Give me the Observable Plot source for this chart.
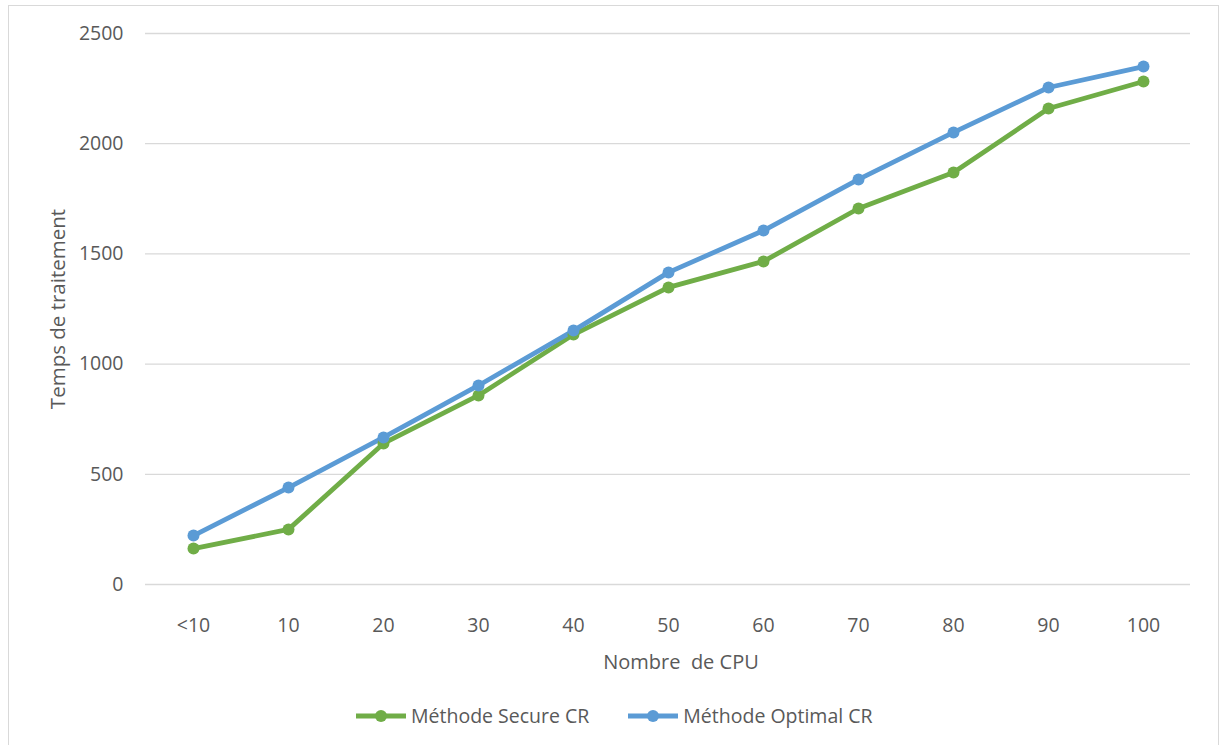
<!DOCTYPE html>
<html>
<head>
<meta charset="utf-8">
<script src="https://cdn.jsdelivr.net/npm/d3@7"></script>
<script src="https://cdn.jsdelivr.net/npm/@observablehq/plot@0.6"></script>
<style>
  body { margin: 0; background: #fff; font-family: "Open Sans", sans-serif; }
  #wrap { position: relative; width: 1224px; height: 745px; overflow: hidden; }
  #frame { position: absolute; left: 8px; top: 5px; width: 1209px; height: 760px; border: 1px solid #d9d9d9; }
  #chart { position: absolute; left: 0; top: 0; }
  #legend { position: absolute; top: 702px; left: 355px; display: flex; align-items: center; font-size: 19.5px; color: #595959; }
  .item { display: flex; align-items: center; margin-right: 38px; }
  .item svg { margin-right: 4px; }
</style>
</head>
<body>
<div id="wrap">
  <div id="frame"></div>
  <div id="chart"></div>
  <div id="legend"></div>
</div>
<script>
const categories = ["<10", "10", "20", "30", "40", "50", "60", "70", "80", "90", "100"];
const secureCR = [163, 250, 640, 858, 1134, 1348, 1466, 1706, 1869, 2160, 2282];
const optimalCR = [222, 440, 667, 903, 1152, 1416, 1606, 1838, 2051, 2255, 2350];
const seriesNames = ["Méthode Secure CR", "Méthode Optimal CR"];
const seriesColors = ["#70AD47", "#5B9BD5"];
const yTicks = [0, 500, 1000, 1500, 2000, 2500];

const data = [];
categories.forEach((c, i) => {
  data.push({cat: c, value: secureCR[i], series: seriesNames[0]});
});
categories.forEach((c, i) => {
  data.push({cat: c, value: optimalCR[i], series: seriesNames[1]});
});

const textColor = "#595959";
const fs = 19.5;
const chart = Plot.plot({
  width: 1224,
  height: 700,
  marginLeft: 145,
  marginRight: 34,
  marginTop: 33,
  marginBottom: 116,
  style: {fontFamily: "Open Sans, sans-serif", fontSize: fs + "px", color: textColor, background: "transparent"},
  x: {type: "point", domain: categories, padding: 0.5, label: null},
  y: {domain: [0, 2500], label: null},
  color: {domain: seriesNames, range: seriesColors},
  marks: [
    Plot.gridY(yTicks, {stroke: "#d9d9d9", strokeOpacity: 1, strokeWidth: 1.3}),
    Plot.axisY(yTicks, {tickSize: 0, tickPadding: 22, fontSize: fs, fill: textColor, tickFormat: d3.format("d")}),
    Plot.axisX({tickSize: 0, tickPadding: 34, fontSize: fs, fill: textColor}),
    Plot.lineY(data, {x: "cat", y: "value", z: "series", stroke: "series", strokeWidth: 4.8, strokeLinejoin: "round"}),
    Plot.dot(data, {x: "cat", y: "value", fill: "series", r: 6}),
    Plot.text(["Temps de traitement"], {frameAnchor: "left", dx: -87, rotate: -90, fontSize: 20.5, fill: textColor, textAnchor: "middle", lineAnchor: "middle"}),
    Plot.text(["Nombre  de CPU"], {frameAnchor: "bottom", dy: 78, dx: 13, fontSize: 20, fill: textColor, textAnchor: "middle", lineAnchor: "middle"})
  ]
});
document.getElementById("chart").appendChild(chart);

const legend = document.getElementById("legend");
seriesNames.forEach((name, i) => {
  const item = document.createElement("div");
  item.className = "item";
  item.innerHTML = `<svg width="52" height="14"><line x1="1" y1="7" x2="51" y2="7" stroke="${seriesColors[i]}" stroke-width="4.8"/><circle cx="26" cy="7" r="6" fill="${seriesColors[i]}"/></svg><span>${name}</span>`;
  legend.appendChild(item);
});
</script>
</body>
</html>
